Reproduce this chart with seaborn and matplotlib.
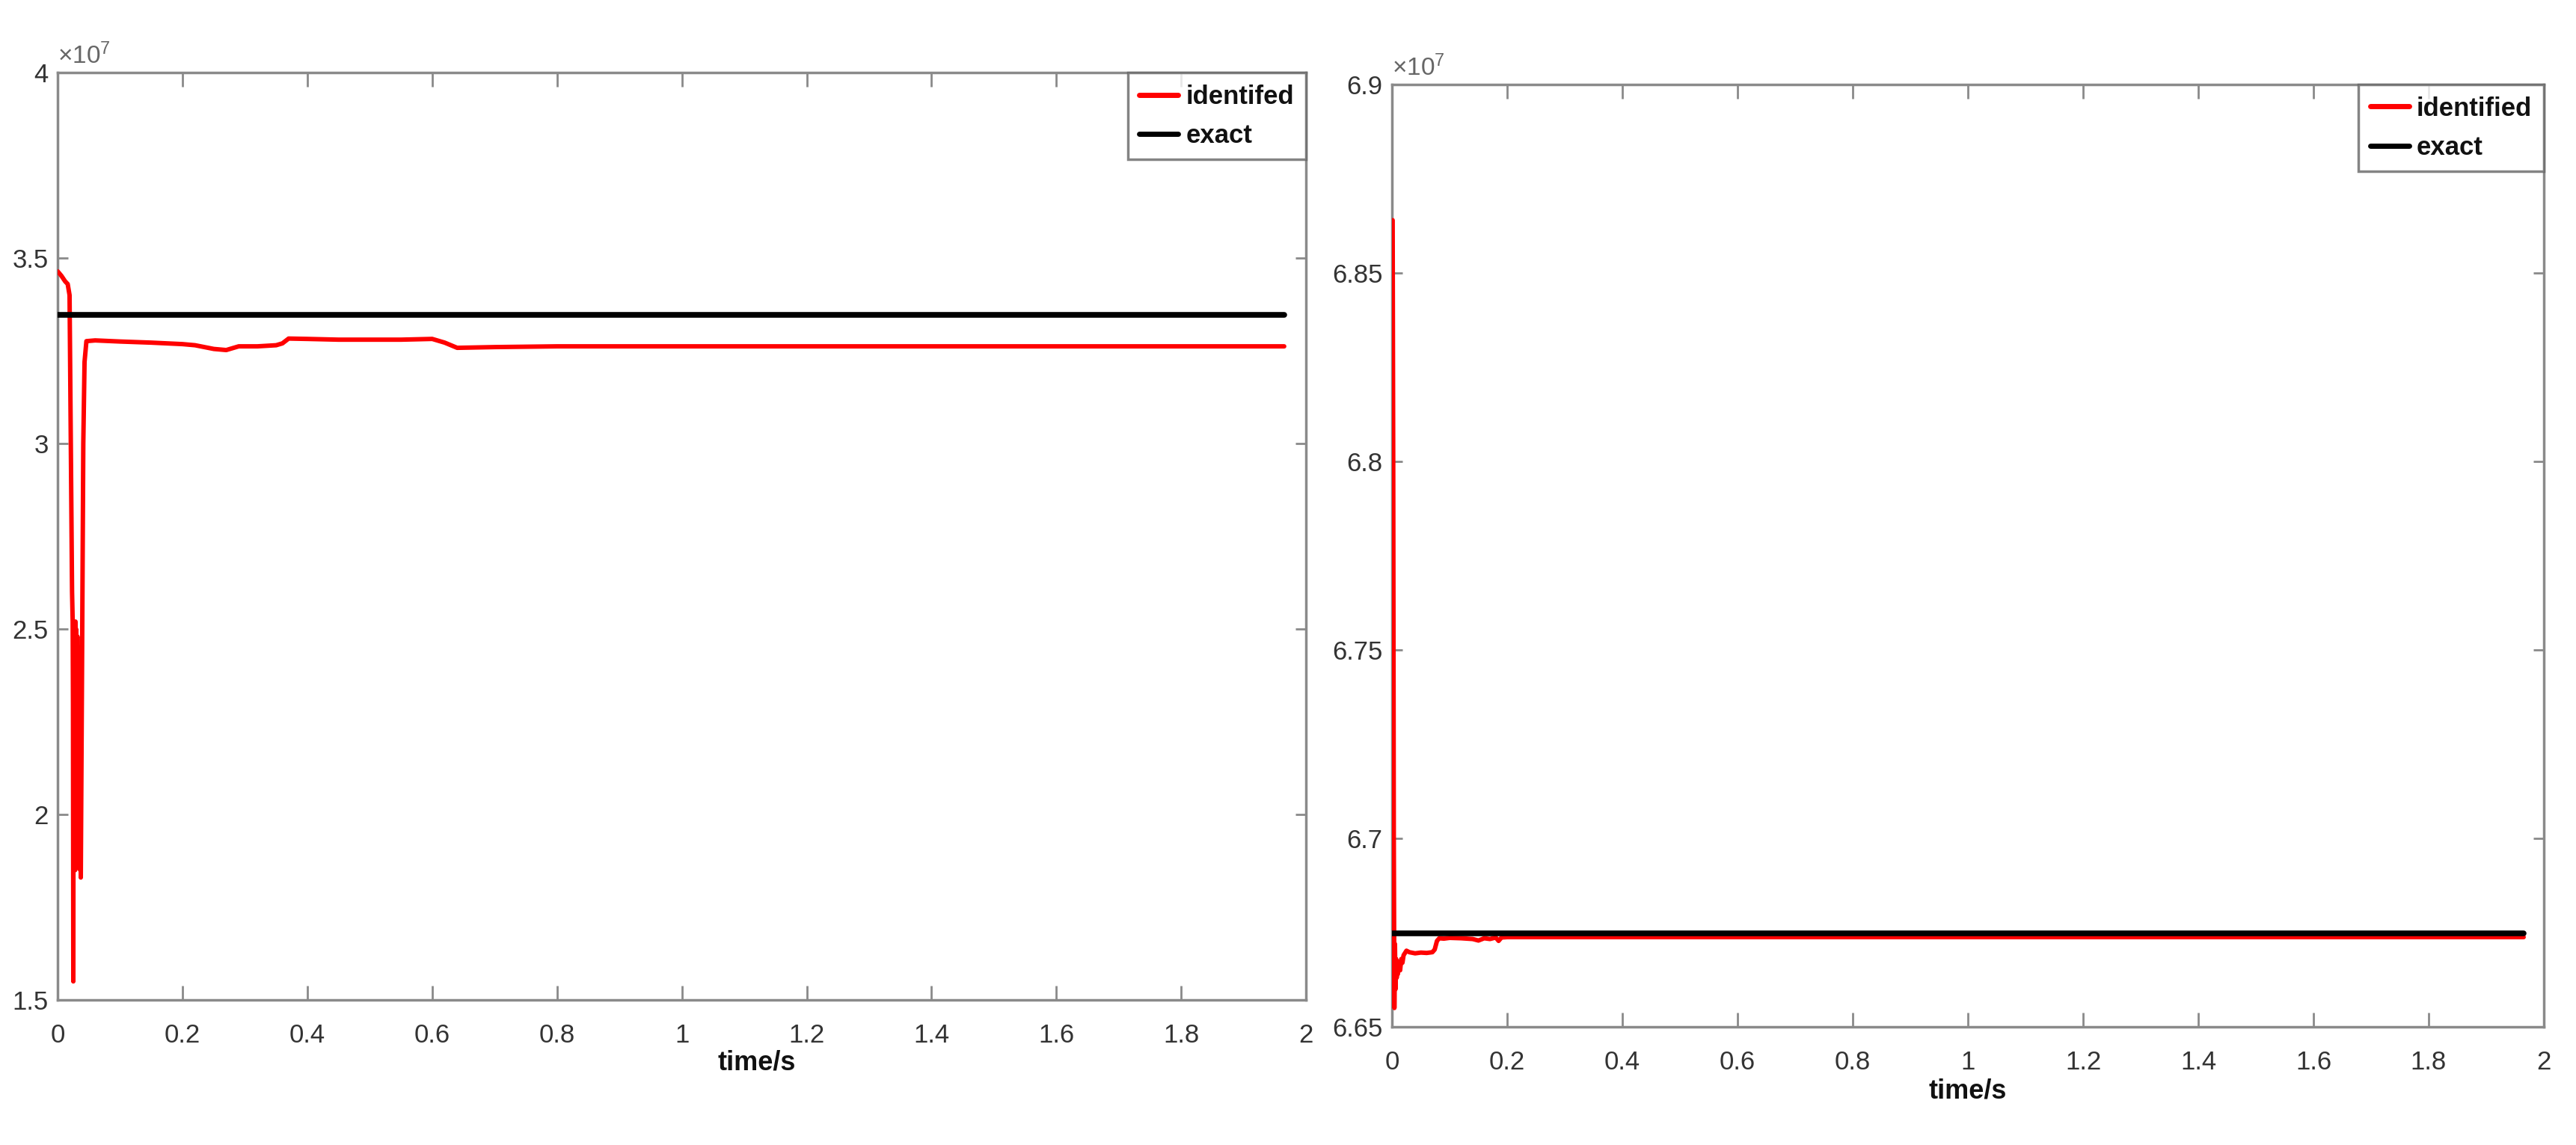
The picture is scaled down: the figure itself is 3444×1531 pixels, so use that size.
import numpy as np
import pandas as pd
import matplotlib
matplotlib.use("Agg")
import matplotlib.pyplot as plt
import seaborn as sns
from matplotlib import font_manager as fm
from matplotlib.ticker import FuncFormatter
from matplotlib.lines import Line2D

# ---------------- data (values in units of 1e7) ----------------
SCALE = 1e7

left_t = [0, 0.006, 0.012, 0.016, 0.019, 0.021, 0.023, 0.0240, 0.0245, 0.0250,
          0.0255, 0.0260, 0.0265, 0.0270, 0.0275, 0.0280, 0.0285, 0.0290, 0.0295, 0.0300,
          0.0305, 0.0310, 0.0315, 0.0320, 0.0325, 0.0330, 0.0335, 0.0340, 0.0345, 0.0350,
          0.0355, 0.0360, 0.0365, 0.0370, 0.039, 0.041, 0.043, 0.046, 0.06, 0.10,
          0.15, 0.20, 0.22, 0.25, 0.27, 0.29, 0.32, 0.35, 0.36, 0.37,
          0.40, 0.45, 0.50, 0.55, 0.60, 0.62, 0.64, 0.70, 0.80, 1.00,
          1.50, 1.965]
left_identified = [3.464, 3.452, 3.437, 3.430, 3.400, 3.000, 2.600, 2.520, 2.300, 1.550,
                   2.500, 1.900, 2.480, 1.870, 2.450, 1.850, 2.520, 1.880, 2.500, 1.860,
                   2.420, 1.870, 2.480, 1.860, 2.450, 1.880, 2.400, 1.900, 2.420, 1.870,
                   2.300, 1.850, 2.200, 1.830, 2.400, 3.000, 3.220, 3.276, 3.278, 3.275,
                   3.272, 3.268, 3.265, 3.255, 3.252, 3.262, 3.262, 3.265, 3.270, 3.283,
                   3.282, 3.280, 3.280, 3.280, 3.282, 3.272, 3.258, 3.260, 3.262, 3.262,
                   3.262, 3.262]
left_exact_t = [0, 1.965]
left_exact = [3.347, 3.347]

right_t = [0.001, 0.002, 0.003, 0.004, 0.005, 0.006, 0.007, 0.008, 0.009, 0.010,
           0.012, 0.014, 0.016, 0.018, 0.020, 0.025, 0.030, 0.040, 0.050, 0.060,
           0.070, 0.074, 0.078, 0.082, 0.090, 0.100, 0.120, 0.140, 0.150, 0.160,
           0.170, 0.180, 0.185, 0.190, 0.200, 0.300, 0.500, 1.000, 1.500, 1.965]
right_identified = [6.864, 6.800, 6.700, 6.655, 6.672, 6.660, 6.668, 6.663, 6.667, 6.664,
                    6.667, 6.665, 6.668, 6.667, 6.669, 6.6702, 6.6698, 6.6695, 6.6697, 6.6696,
                    6.6698, 6.6705, 6.6728, 6.6735, 6.6734, 6.6736, 6.6735, 6.6733, 6.6729, 6.6735,
                    6.6733, 6.6737, 6.6728, 6.6737, 6.6738, 6.6738, 6.6738, 6.6738, 6.6738, 6.6738]
right_exact_t = [0, 1.965]
right_exact = [6.6748, 6.6748]

x_ticks = [0, 0.2, 0.4, 0.6, 0.8, 1.0, 1.2, 1.4, 1.6, 1.8, 2.0]
left_yticks = [1.5, 2.0, 2.5, 3.0, 3.5, 4.0]
right_yticks = [6.65, 6.70, 6.75, 6.80, 6.85, 6.90]
left_labels = ["identifed", "exact"]
right_labels = ["identified", "exact"]

# ---------------- style ----------------
sns.set_theme(style="white")
installed = {f.name for f in fm.fontManager.ttflist}
if "Liberation Sans Narrow" in installed:
    FAM = ["Liberation Sans Narrow", "Liberation Sans", "DejaVu Sans"]
    TICK_FS, LEG_FS, XLAB_FS, OFF_FS = 28, 31, 29, 26
else:
    FAM = ["Liberation Sans", "DejaVu Sans"]
    TICK_FS, LEG_FS, XLAB_FS, OFF_FS = 25, 25, 26, 24
plt.rcParams["font.family"] = FAM
plt.rcParams["mathtext.fontset"] = "custom"
plt.rcParams["mathtext.rm"] = FAM[0]
plt.rcParams["mathtext.it"] = FAM[0]

SPINE = "#8a8a8a"
TXT = "#333333"

fig = plt.figure(figsize=(34.44, 15.31), dpi=100)
ax1 = fig.add_axes([0.0224, 0.1267, 0.4846, 0.8099])
ax2 = fig.add_axes([0.5404, 0.1032, 0.4471, 0.8230])


def draw(ax, t, ident, et, ex, ylim, yticks, labels, xlab_x):
    df_id = pd.DataFrame({"t": t, "v": np.array(ident) * SCALE})
    df_ex = pd.DataFrame({"t": et, "v": np.array(ex) * SCALE})
    sns.lineplot(data=df_id, x="t", y="v", ax=ax, color="#ff0000", lw=4.3,
                 estimator=None, sort=False, zorder=3)
    sns.lineplot(data=df_ex, x="t", y="v", ax=ax, color="#000000", lw=5.5,
                 estimator=None, sort=False, zorder=4)
    ax.set_xlim(0, 2)
    ax.set_ylim(ylim[0] * SCALE, ylim[1] * SCALE)
    ax.set_xticks(x_ticks)
    ax.set_yticks([y * SCALE for y in yticks])
    ax.xaxis.set_major_formatter(FuncFormatter(lambda v, p: "%g" % round(v, 3)))
    ax.yaxis.set_major_formatter(FuncFormatter(lambda v, p: "%g" % round(v / SCALE, 4)))
    for s in ax.spines.values():
        s.set_color(SPINE)
        s.set_linewidth(2.5)
        s.set_visible(True)
    ax.tick_params(axis="x", which="major", direction="in", length=14, width=2,
                   color=SPINE, top=True, bottom=True, pad=22,
                   labelsize=TICK_FS, labelcolor=TXT)
    ax.tick_params(axis="y", which="major", direction="in", length=10, width=2,
                   color=SPINE, left=True, right=True, pad=9,
                   labelsize=TICK_FS, labelcolor=TXT)
    ax.set_ylabel("")
    ax.set_xlabel("time/s", fontsize=XLAB_FS, fontweight="bold", color="#111111")
    ax.xaxis.set_label_coords(xlab_x, -0.068)
    ax.xaxis.label.set_va("center")
    ax.text(0.0, 1.004, r"$\times10^{7}$", transform=ax.transAxes, ha="left",
            va="bottom", fontsize=OFF_FS, color="#666666")
    handles = [Line2D([], [], color="#ff0000", lw=5),
               Line2D([], [], color="#000000", lw=5)]
    leg = ax.legend(handles, labels, loc="upper right", borderaxespad=0,
                    frameon=True, fancybox=False, handlelength=1.5,
                    handletextpad=0.3, borderpad=0.45, labelspacing=0.55,
                    prop={"family": FAM, "weight": "bold", "size": LEG_FS})
    leg.get_frame().set_edgecolor("#666666")
    leg.get_frame().set_linewidth(2.5)
    for txt in leg.get_texts():
        txt.set_color("#111111")


draw(ax1, left_t, left_identified, left_exact_t, left_exact, (1.5, 4.0),
     left_yticks, left_labels, 0.56)
draw(ax2, right_t, right_identified, right_exact_t, right_exact, (6.65, 6.9),
     right_yticks, right_labels, 0.5)

fig.savefig("out.png", dpi=100, facecolor="white")
